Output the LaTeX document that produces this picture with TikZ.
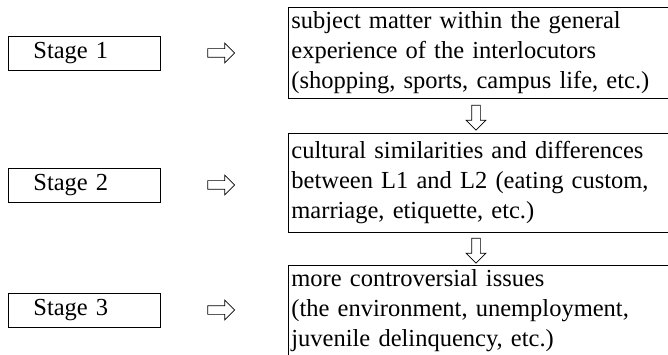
\documentclass[tikz,border=0pt]{standalone}
\usepackage{fontspec}
\setmainfont{Liberation Serif}
\usetikzlibrary{shapes.arrows,positioning}
\newcommand\diagfont{\fontsize{24.5}{30}\selectfont\spaceskip=9.8pt plus 2pt minus 1pt\relax}

\begin{document}
\begin{tikzpicture}[
  x=1pt,y=-1pt,
  every node/.style={font=\diagfont},
  stagebox/.style={draw,line width=0.8pt,text width=102pt,inner xsep=25pt,inner ysep=0pt,minimum height=34pt,align=left,anchor=north west},
  topicbox/.style={draw,line width=0.8pt,text width=392pt,inner xsep=3pt,inner ysep=0pt,align=left,anchor=north west},
  rarr/.style={single arrow,draw,line width=0.7pt,fill=white,minimum height=27pt,inner sep=4pt,single arrow head extend=5.5pt},
  darr/.style={rarr,shape border rotate=270,minimum height=25pt}
]
\useasboundingbox (0,0) rectangle (668,355);
% stages on the left
\node[stagebox] (s1) at (8,36) {Stage 1};
\node[stagebox] (s2) at (8,168) {Stage 2};
\node[stagebox] (s3) at (8,293) {Stage 3};
% arrows pointing to the topics
\node[rarr] (r1) at (219,53) {};
\node[rarr] (r2) at (219,185) {};
\node[rarr] (r3) at (219,310) {};
% topics on the right
\node[topicbox,minimum height=91pt] (t1) at (288,7) {subject matter within the general\\experience of the interlocutors\\(shopping, sports, campus life, etc.)};
\node[topicbox,minimum height=99pt] (t2) at (288,133) {cultural similarities and differences\\between L1 and L2 (eating custom,\\marriage, etiquette, etc.)};
\node[topicbox,minimum height=91pt] (t3) at (288,265) {more controversial issues\\(the environment, unemployment,\\juvenile delinquency, etc.)};
% arrows between topics
\node[darr] (d1) at (476,115.5) {};
\node[darr] (d2) at (476,248.5) {};
\end{tikzpicture}
\end{document}
